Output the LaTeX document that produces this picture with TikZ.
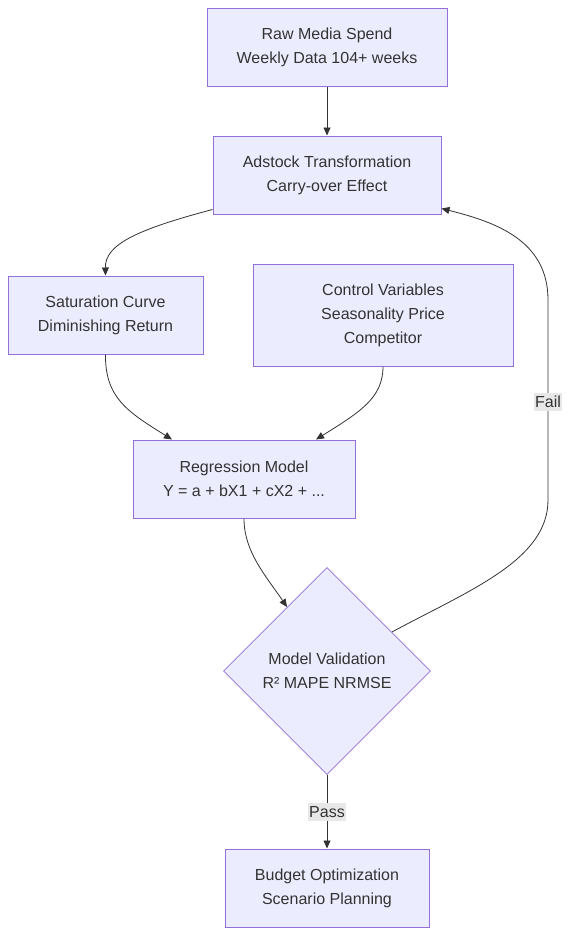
\documentclass[tikz,border=0pt]{standalone}
\usepackage{fontspec}
\setmainfont{Liberation Sans}
\usetikzlibrary{shapes.geometric}
\usetikzlibrary{arrows.meta}
\definecolor{boxfill}{HTML}{ECECFF}
\definecolor{boxline}{HTML}{9370DB}
\definecolor{inktext}{HTML}{333333}
\definecolor{lblfill}{HTML}{E8E8E8}
\tikzset{
  procbox/.style={draw=boxline, fill=boxfill, line width=1pt, text=inktext,
    align=center, font=\fontsize{16}{24}\selectfont, minimum height=78pt, inner sep=0pt},
  decbox/.style={diamond, draw=boxline, fill=boxfill, line width=0.8pt, text=inktext,
    align=center, font=\fontsize{16}{24}\selectfont, minimum width=207pt,
    minimum height=207pt, inner sep=0pt},
  flow/.style={draw=inktext, line width=0.8pt, -{Triangle[length=8pt,width=7pt]}},
  lbl/.style={fill=lblfill, text=inktext, font=\fontsize{16}{19}\selectfont,
    inner xsep=1pt, inner ysep=3.5pt}
}
\begin{document}
\begin{tikzpicture}[x=1pt,y=-1pt]
\useasboundingbox (0,0) rectangle (569,935);
% nodes
\node[procbox, minimum width=240pt] (raw) at (327,47) {Raw Media Spend\\Weekly Data 104+ weeks};
\node[procbox, minimum width=228pt] (adstock) at (327,175) {Adstock Transformation\\Carry-over Effect};
\node[procbox, minimum width=195pt] (sat) at (105.5,315) {Saturation Curve\\Diminishing Return};
\node[procbox, minimum width=260pt, minimum height=102pt] (ctrl) at (383,315) {Control Variables\\Seasonality Price\\Competitor};
\node[procbox, minimum width=222pt] (reg) at (244,479) {Regression Model\\Y = a + bX1 + cX2 + ...};
\node[decbox] (valid) at (327,671) {Model Validation\\R² MAPE NRMSE};
\node[procbox, minimum width=204pt] (budget) at (327,888) {Budget Optimization\\Scenario Planning};
% connectors
\draw[flow] (raw) -- (adstock);
\draw[flow] ([yshift=5pt]adstock.south west) .. controls (135,230) and (105,245) .. (sat.north);
\draw[flow] (sat.south) .. controls (105,398) and (128,412) .. ([xshift=-72pt]reg.north);
\draw[flow] (ctrl.south) .. controls (383,398) and (360,412) .. ([xshift=72pt]reg.north);
\draw[flow] (reg.south) .. controls (244,552) and (266,576) .. (valid.122);
\draw[flow] (valid.south) -- node[lbl] {Pass} (budget.north);
\draw[flow] (valid.31) .. controls (470,590) and (548,560) .. (548,500)
  -- node[lbl, pos=0.49] {Fail} (548,300) .. controls (548,240) and (495,222) .. ([yshift=6pt]adstock.south east);
\end{tikzpicture}
\end{document}
